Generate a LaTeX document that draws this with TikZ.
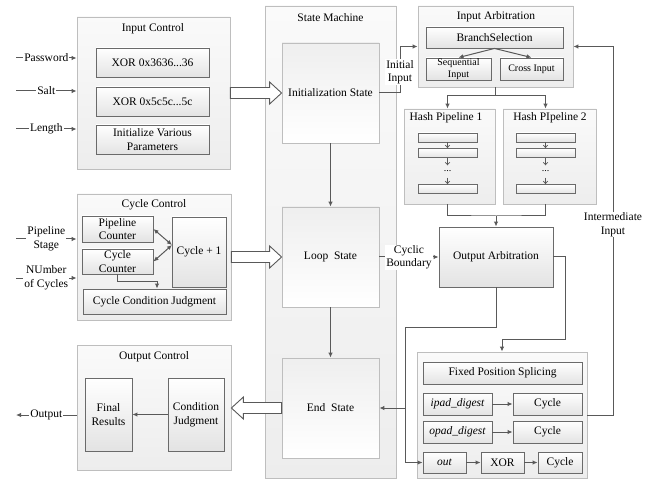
\documentclass[tikz,border=0pt]{standalone}
\usepackage{fontspec}
\setmainfont{Liberation Serif}
\usetikzlibrary{arrows.meta,calc}
\definecolor{linegray}{HTML}{595959}
\definecolor{edgedark}{HTML}{6A6A6A}
\definecolor{edgelight}{HTML}{BEBEBE}

\tikzset{
  base/.style={rectangle, inner sep=0pt, align=center,
    font=\fontsize{11.5}{13.5}\selectfont},
  inner/.style={base, draw=edgedark, line width=0.9pt, top color=white, bottom color=gray!22},
  cont/.style={base, draw=edgelight, line width=0.8pt, top color=gray!4, bottom color=gray!14},
  statebox/.style={base, draw=edgelight, line width=0.8pt, top color=gray!13, bottom color=white},
  conn/.style={draw=linegray, line width=1pt},
  arr/.style={conn, -{Latex[length=5pt,width=4.5pt]}},
  darr/.style={conn, {Latex[length=5pt,width=4.5pt]}-{Latex[length=5pt,width=4.5pt]}},
  varr/.style={draw=linegray, line width=0.7pt, -{Straight Barb[length=2.5pt,width=4.5pt]}},
  lbl/.style={base, fill=white, inner sep=1pt},
  fat/.style={draw=linegray, line width=0.9pt, fill=white},
  bar/.style={inner, line width=0.8pt, minimum width=59pt, minimum height=9pt},
  small/.style={font=\fontsize{10}{11.5}\selectfont},
}

% hollow block arrow: from x of #1 to point #2, head length #3 (signed)
\newcommand\fatarrow[3]{%
  \draw[fat] let \p1=(#1), \p2=(#2) in
    (\x1,{\y2+5.5pt}) -- ({\x2-(#3)},{\y2+5.5pt}) -- ({\x2-(#3)},{\y2+11pt}) -- (\x2,\y2)
    -- ({\x2-(#3)},{\y2-11pt}) -- ({\x2-(#3)},{\y2-5.5pt}) -- (\x1,{\y2-5.5pt}) -- cycle;}

\begin{document}
\begin{tikzpicture}[x=1pt,y=-1pt]
\useasboundingbox (0,0) rectangle (656,481);

% ---------- containers ----------
\node[cont, minimum width=153pt, minimum height=152pt] (inctl) at (153.5,93) {};
\node[base] (inctlT) at (153,29) {Input Control};
\node[cont, minimum width=154pt, minimum height=126pt] (cycctl) at (154,257) {};
\node[base] (cycctlT) at (154,205) {Cycle Control};
\node[cont, minimum width=154pt, minimum height=125pt] (outctl) at (154,407.5) {};
\node[base] (outctlT) at (154,357) {Output Control};
\node[cont, minimum width=131pt, minimum height=472pt] (sm) at (330.5,242) {};
\node[base] (smT) at (330.5,18) {State Machine};
\node[cont, minimum width=155pt, minimum height=81pt] (inarb) at (495.5,46.5) {};
\node[base] (inarbT) at (496,17) {Input Arbitration};
\node[cont, minimum width=91pt, minimum height=95pt] (hp1) at (449.5,156.5) {};
\node[base] (hp1T) at (446,118) {Hash Pipeline 1};
\node[cont, minimum width=93pt, minimum height=95pt] (hp2) at (549.5,156.5) {};
\node[base] (hp2T) at (550,118) {Hash PIpeline 2};
\node[cont, minimum width=170pt, minimum height=126pt] (fpso) at (502,415) {};

% ---------- input control ----------
\node[inner, minimum width=113pt, minimum height=29pt] (xor1) at (152.5,62.5) {XOR 0x3636...36};
\node[inner, minimum width=113pt, minimum height=29pt] (xor2) at (152.5,101.5) {XOR 0x5c5c...5c};
\node[inner, minimum width=113pt, minimum height=29pt] (initp) at (152.5,139.5) {Initialize Various\\Parameters};

% ---------- cycle control ----------
\node[inner, minimum width=71pt, minimum height=26pt] (pcnt) at (117.5,229) {Pipeline\\Counter};
\node[inner, minimum width=71pt, minimum height=25pt] (ccnt) at (117.5,261.5) {Cycle\\Counter};
\node[inner, minimum width=54pt, minimum height=70pt] (cyc1) at (199,252) {Cycle + 1};
\node[inner, minimum width=143pt, minimum height=25pt] (ccj) at (154.5,301.5) {Cycle Condition Judgment};

% ---------- output control ----------
\node[inner, minimum width=47pt, minimum height=73pt] (final) at (108.5,414.5) {Final\\Results};
\node[inner, minimum width=56pt, minimum height=73pt] (condj) at (196,414.5) {Condition\\Judgment};

% ---------- state machine ----------
\node[statebox, minimum width=97pt, minimum height=100pt] (initst) at (330.5,93) {Initialization State};
\node[statebox, minimum width=97pt, minimum height=100pt] (loopst) at (330.5,257) {Loop~ State};
\node[statebox, minimum width=97pt, minimum height=100pt] (endst) at (330.5,408) {End~ State};

% ---------- input arbitration ----------
\node[inner, minimum width=137pt, minimum height=21pt] (branch) at (494.5,37.5) {BranchSelection};
\node[inner, small, minimum width=65pt, minimum height=22pt] (seq) at (458.5,69) {Sequential\\Input};
\node[inner, small, minimum width=63pt, minimum height=22pt] (cross) at (531.5,69) {Cross Input};

% ---------- hash pipelines ----------
\node[bar] (b11) at (447.5,137.5) {};
\node[bar] (b12) at (447.5,153) {};
\node[base, small, minimum height=12pt] (d1) at (447.5,171.5) {...};
\node[bar] (b13) at (447.5,189) {};
\node[bar] (b21) at (545.5,137.5) {};
\node[bar] (b22) at (545.5,153) {};
\node[base, small, minimum height=12pt] (d2) at (545.5,171.5) {...};
\node[bar] (b23) at (545.5,189) {};

% ---------- output arbitration and splicing ----------
\node[inner, minimum width=114pt, minimum height=60pt] (outarb) at (496,257) {Output Arbitration};
\node[inner, minimum width=159pt, minimum height=22pt] (fps) at (502.5,373) {Fixed Position Splicing};
\node[inner, minimum width=69pt, minimum height=22pt] (ipad) at (457.5,404) {\itshape ipad\_digest};
\node[inner, minimum width=69pt, minimum height=22pt] (cyca) at (547.5,404) {Cycle};
\node[inner, minimum width=69pt, minimum height=22pt] (opad) at (457.5,432) {\itshape opad\_digest};
\node[inner, minimum width=69pt, minimum height=22pt] (cycb) at (547.5,432) {Cycle};
\node[inner, minimum width=43pt, minimum height=21pt] (outb) at (444.5,462.5) {\itshape out};
\node[inner, minimum width=43pt, minimum height=21pt] (xor3) at (502.5,462.5) {XOR};
\node[inner, minimum width=44pt, minimum height=21pt] (cycc) at (560,462.5) {Cycle};

% ---------- free ends and bends ----------
\coordinate (pw) at (16,58);
\coordinate (st) at (16,91);
\coordinate (ln) at (16,129);
\coordinate (ps) at (16,239);
\coordinate (nc) at (16,278);
\coordinate (op) at (16,415);
\coordinate (cj) at (172,245);
\coordinate (cc1) at (157,281);
\coordinate (jn) at (496,216);
\coordinate (oa1) at (565,339);
\coordinate (ob1) at (405,327);

% ---------- external inputs / output ----------
\draw[arr] (pw) -- (pw -| inctl.west) node[lbl, midway] {Password};
\draw[arr] (st) -- (st -| inctl.west) node[lbl, midway] {Salt};
\draw[arr] (ln) -- (ln -| inctl.west) node[lbl, midway] {Length};
\draw[arr] (ps) -- (ps -| cycctl.west) node[lbl, midway] {Pipeline\\Stage};
\draw[arr] (nc) -- (nc -| cycctl.west) node[lbl, midway] {NUmber\\of Cycles};
\draw[arr] (op -| outctl.west) -- (op) node[lbl, midway] {Output};

% ---------- cycle control links ----------
\draw[darr] (pcnt.east) -- (cj);
\draw[darr] (ccnt.east) -- (cj);
\draw[arr] (ccnt.south) |- (cc1) -- (ccj.north -| cc1);

% ---------- output control link ----------
\draw[arr] (condj.west) -- (final.east);

% ---------- block arrows ----------
\fatarrow{inctl.east}{initst.west}{12pt}
\fatarrow{cycctl.east}{loopst.west}{12pt}
\fatarrow{endst.west}{outctl.east |- endst.west}{-12pt}

% ---------- state transitions ----------
\draw[arr] (initst.south) -- (loopst.north);
\draw[arr] (loopst.south) -- (endst.north);

% ---------- initial input ----------
\draw[arr] (initst.east) -- ++(21,0) |- (inarb.west);
\node[lbl] (iiL) at (400,72) {Initial\\Input};

% ---------- branch selection ----------
\draw[arr] (branch.south) -- (seq.north);
\draw[arr] (branch.south) -- (cross.north);

% ---------- to hash pipelines ----------
\draw[arr] (inarb.south) -- ++(0,8) -| (hp1.north -| b11.north);
\draw[arr] (inarb.south) -- ++(0,8) -| (hp2.north -| b21.north);

% ---------- inside pipelines ----------
\draw[varr] (b11.south) -- (b12.north);
\draw[varr] (b12.south) -- (d1.north);
\draw[varr] (d1.south) -- (b13.north);
\draw[varr] (b21.south) -- (b22.north);
\draw[varr] (b22.south) -- (d2.north);
\draw[varr] (d2.south) -- (b23.north);

% ---------- pipelines to output arbitration ----------
\draw[conn] (hp1.south -| b13.south) |- (jn) -| (hp2.south -| b23.south);
\draw[arr] (jn) -- (outarb.north);

% ---------- cyclic boundary ----------
\draw[arr] (loopst.east) -- (outarb.west);
\node[lbl] (cbL) at (409,257.5) {Cyclic\\Boundary};

% ---------- output arbitration outputs ----------
\draw[arr] (outarb.east) -| (oa1) -| (fpso.north);
\draw[arr] (outarb.south) |- (ob1) |- (outb.west);
\draw[arr] (endst.east -| ob1) -- (endst.east);

% ---------- intermediate input feedback ----------
\draw[arr] (fpso.east) -- ++(26,0) |- (inarb.east);
\node[lbl] (imL) at (613,224.5) {Intermediate\\Input};

% ---------- splicing links ----------
\draw[arr] (ipad.east) -- (cyca.west);
\draw[arr] (opad.east) -- (cycb.west);
\draw[arr] (outb.east) -- (xor3.west);
\draw[arr] (xor3.east) -- (cycc.west);

\end{tikzpicture}
\end{document}
